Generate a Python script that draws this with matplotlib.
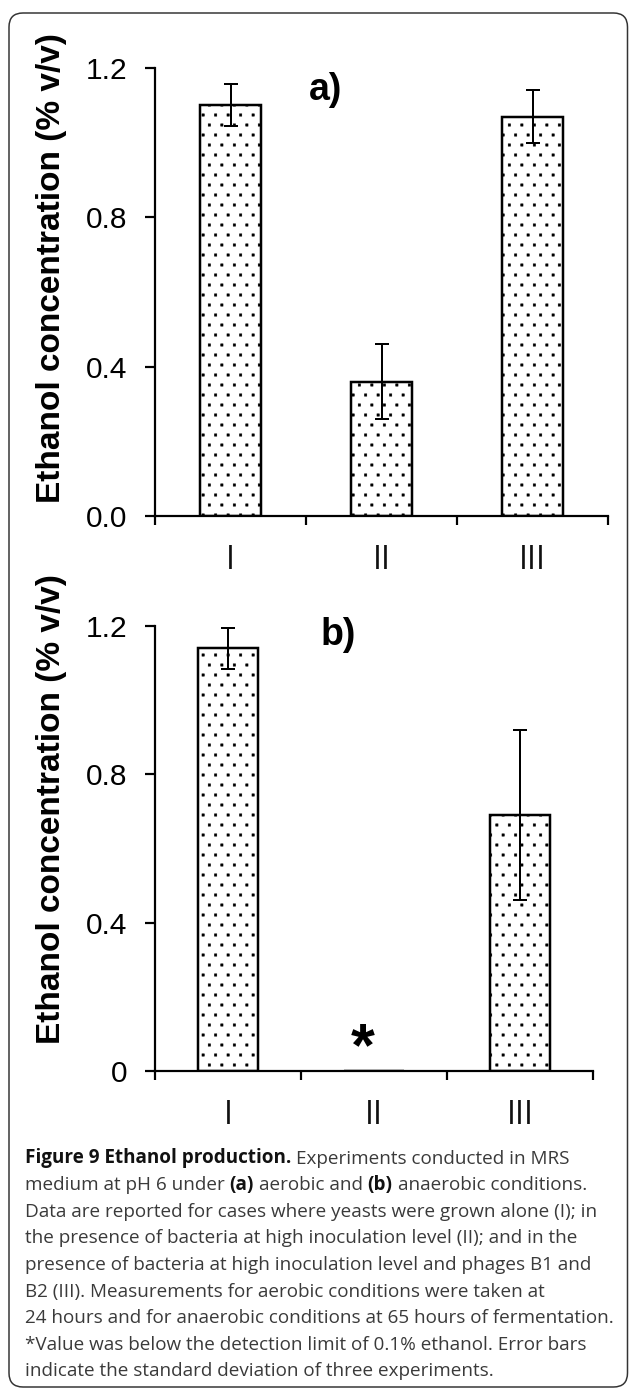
import numpy as np
import matplotlib
matplotlib.use("Agg")
import matplotlib.pyplot as plt
import matplotlib.hatch as mhatch
from matplotlib.path import Path
from matplotlib.patches import FancyBboxPatch
from matplotlib.transforms import IdentityTransform

# ---------------- data ----------------
categories = ["I", "II", "III"]
aerobic_mean = [1.10, 0.36, 1.07]
aerobic_sd = [0.056, 0.10, 0.07]
anaerobic_mean = [1.14, 0.0, 0.69]
anaerobic_sd = [0.055, 0.0, 0.23]
yticks_a = [0.0, 0.4, 0.8, 1.2]
yticklabels_a = ["0.0", "0.4", "0.8", "1.2"]
yticks_b = [0.0, 0.4, 0.8, 1.2]
yticklabels_b = ["0", "0.4", "0.8", "1.2"]
ylabel = "Ethanol concentration (% v/v)"
panel_labels = ["a)", "b)"]

caption_lines = [
    [("Figure 9 Ethanol production.", True), (" Experiments conducted in MRS", False)],
    [("medium at pH 6 under ", False), ("(a)", True), (" aerobic and ", False),
     ("(b)", True), (" anaerobic conditions.", False)],
    [("Data are reported for cases where yeasts were grown alone (I); in", False)],
    [("the presence of bacteria at high inoculation level (II); and in the", False)],
    [("presence of bacteria at high inoculation level and phages B1 and", False)],
    [("B2 (III). Measurements for aerobic conditions were taken at", False)],
    [("24 hours and for anaerobic conditions at 65 hours of fermentation.", False)],
    [("*Value was below the detection limit of 0.1% ethanol. Error bars", False)],
    [("indicate the standard deviation of three experiments.", False)],
]


# ---------------- custom dotted hatch (staggered square dots) ----------------
class DotGrid(mhatch.HatchPatternBase):
    filled = True
    ncols = 8
    nrows = 10
    half = 0.0115

    def __init__(self, hatch, density):
        self.active = hatch.count(".") > 0
        self.num_shapes = self.ncols * self.nrows if self.active else 0
        self.num_vertices = self.num_shapes * 5

    def set_vertices_and_codes(self, vertices, codes):
        h = self.half
        sq = np.array([[-h, -h], [h, -h], [h, h], [-h, h], [-h, -h]])
        k = 0
        for r in range(self.nrows):
            y = (r + 0.5) / self.nrows
            off = 0.5 if r % 2 else 0.0
            for c in range(self.ncols):
                x = (c + 0.25 + off) / self.ncols
                vertices[k:k + 5] = sq + [x, y]
                codes[k] = Path.MOVETO
                codes[k + 1:k + 4] = Path.LINETO
                codes[k + 4] = Path.CLOSEPOLY
                k += 5


mhatch._hatch_types = [DotGrid if t is mhatch.SmallFilledCircles else t
                       for t in mhatch._hatch_types]
plt.rcParams["hatch.linewidth"] = 0.4

# ---------------- layout ----------------
W, H, DPI = 629, 1390, 100
PX = 72.0 / DPI  # points per pixel

fig = plt.figure(figsize=(W / DPI, H / DPI), dpi=DPI)
fig.patch.set_facecolor("white")


def axes_rect(left, top, right, bottom):
    return [left / W, 1 - bottom / H, (right - left) / W, (bottom - top) / H]


ax1 = fig.add_axes(axes_rect(155, 68, 608, 516))
ax2 = fig.add_axes(axes_rect(155, 626, 593, 1071))

AX_FONT = "Liberation Sans"
CAT_FONT = "Open Sans"


def style_panel(ax, means, sds, yticks, yticklabels, label_base_px, axis_bottom_px, axis_h_px):
    x = list(range(len(categories)))
    ax.bar(x, means, width=0.405, color="white", edgecolor="black", hatch=".",
           linewidth=2.5 * PX, yerr=sds,
           error_kw=dict(ecolor="black", elinewidth=2.0 * PX, capsize=6.8 * PX,
                         capthick=2.0 * PX))
    ax.set_xlim(-0.5, len(categories) - 0.5)
    ax.set_ylim(0, 1.2)
    for s in ("top", "right"):
        ax.spines[s].set_visible(False)
    for s in ("left", "bottom"):
        ax.spines[s].set_linewidth(2.2 * PX)
    ax.set_yticks(yticks)
    ax.set_yticklabels(yticklabels, family=AX_FONT, fontsize=21.5)
    ax.tick_params(axis="y", direction="out", length=10 * PX, width=2.2 * PX,
                   pad=18 * PX, colors="black")
    ax.set_xticks([i - 0.5 for i in range(len(categories) + 1)])
    ax.set_xticklabels([])
    ax.tick_params(axis="x", direction="out", length=9 * PX, width=2.2 * PX)
    ax.set_facecolor("none")
    yfrac = -(label_base_px - axis_bottom_px) / axis_h_px
    for i, c in enumerate(categories):
        ax.text(i, yfrac, c, transform=ax.get_xaxis_transform(), ha="center",
                va="baseline", family=CAT_FONT, fontsize=23, color="#111111")


style_panel(ax1, aerobic_mean, aerobic_sd, yticks_a, yticklabels_a, 569, 516, 448)
style_panel(ax2, anaerobic_mean, anaerobic_sd, yticks_b, yticklabels_b, 1124, 1071, 445)

# asterisk for value below detection limit
ax2.text(0.925, 0.016, "*", ha="center", va="baseline", family=AX_FONT,
         fontweight="bold", fontsize=44, color="black")

# y labels
for ycen in (268, 809):
    fig.text(52 / W, 1 - ycen / H, ylabel, rotation=90, ha="center", va="center",
             family=AX_FONT, fontweight="bold", fontsize=24, color="black")

# panel labels
fig.text(309 / W, 1 - 100 / H, panel_labels[0], ha="left", va="baseline",
         family=AX_FONT, fontweight="bold", fontsize=27)
fig.text(321 / W, 1 - 645 / H, panel_labels[1], ha="left", va="baseline",
         family=AX_FONT, fontweight="bold", fontsize=27)

# ---------------- caption ----------------
CAP_SIZE = 13.6
fig.canvas.draw()
renderer = fig.canvas.get_renderer()


def text_width(s, bold):
    t = fig.text(0, 0, s, family=CAT_FONT, fontsize=CAP_SIZE,
                 fontweight="bold" if bold else "normal")
    w = t.get_window_extent(renderer).width
    t.remove()
    return w


space_w = {b: text_width("a a", b) - text_width("aa", b) for b in (True, False)}

base0, step = 1163.5, 26.6
for li, segs in enumerate(caption_lines):
    xpx = 25.0
    ybase = base0 + li * step
    for s, bold in segs:
        lead = len(s) - len(s.lstrip(" "))
        trail = len(s) - len(s.rstrip(" "))
        core = s.strip(" ")
        xpx += lead * space_w[bold]
        fig.text(xpx / W, 1 - ybase / H, core, ha="left", va="baseline",
                 family=CAT_FONT, fontsize=CAP_SIZE,
                 fontweight="bold" if bold else "normal",
                 color="#111111" if bold else "#3a3a3a")
        xpx += text_width(core, bold) + trail * space_w[bold]

# rounded frame
frame = FancyBboxPatch((9, H - 1387), 618.5, 1374,
                       boxstyle="round,pad=0,rounding_size=14",
                       transform=IdentityTransform(), fill=False,
                       edgecolor="#333333", linewidth=1.5 * PX)
fig.patches.append(frame)

fig.savefig("out.png", dpi=DPI, facecolor="white")
